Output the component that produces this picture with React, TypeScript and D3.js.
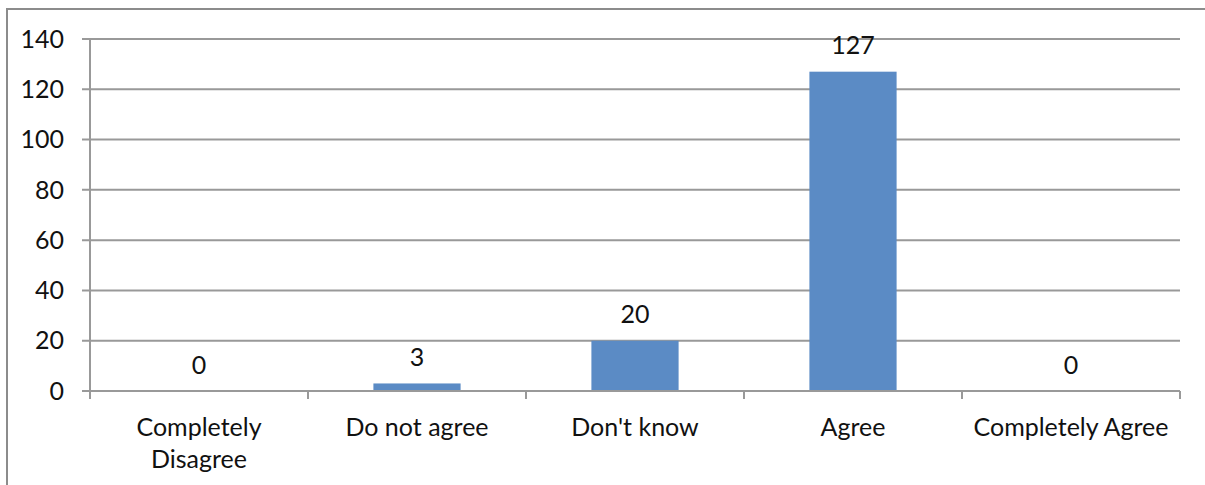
import React, { useEffect, useRef } from "react";
import * as d3 from "d3";

const categories = ["Completely Disagree", "Do not agree", "Don't know", "Agree", "Completely Agree"];
const counts = [0, 3, 20, 127, 0];
const yTicks = [0, 20, 40, 60, 80, 100, 120, 140];

function App() {
    const ref = useRef<SVGSVGElement>(null);

    useEffect(() => {
        const w = 1205;
        const h = 485;
        const m = { left: 90, right: 25, top: 39, bottom: 94 };
        const font = "Lato, 'Open Sans', sans-serif";
        const fs = 25;
        const grid = "#999999";

        const svg = d3.select(ref.current).attr("width", w).attr("height", h);
        svg.selectAll("*").remove();

        svg.append("rect")
            .attr("x", 0).attr("y", 0).attr("width", w).attr("height", h).attr("fill", "#fff");
        // outer chart border (right/bottom run off the page)
        svg.append("rect")
            .attr("x", 7).attr("y", 9).attr("width", w + 10).attr("height", h + 10)
            .attr("fill", "none").attr("stroke", "#8c8c8c").attr("stroke-width", 2);

        const x = d3.scaleBand().domain(categories).range([m.left, w - m.right]).paddingInner(0.6).paddingOuter(0.3);
        const y = d3.scaleLinear().domain([0, 140]).range([h - m.bottom, m.top]);

        const g = svg.append("g");

        // gridlines + y ticks
        g.selectAll(".grid").data(yTicks).join("line")
            .attr("x1", m.left - 8).attr("x2", w - m.right)
            .attr("y1", d => y(d)).attr("y2", d => y(d))
            .attr("stroke", grid).attr("stroke-width", 2);

        g.selectAll(".ylab").data(yTicks).join("text")
            .attr("x", 64).attr("y", d => y(d)).attr("dy", "0.35em")
            .attr("text-anchor", "end").attr("font-family", font).attr("font-size", fs).attr("fill", "#111")
            .text(d => d);

        // y axis line
        g.append("line")
            .attr("x1", m.left).attr("x2", m.left).attr("y1", m.top).attr("y2", y(0) + 8)
            .attr("stroke", grid).attr("stroke-width", 2);

        // category ticks
        const step = (w - m.right - m.left) / categories.length;
        g.selectAll(".xtick").data(d3.range(categories.length + 1)).join("line")
            .attr("x1", i => m.left + i * step).attr("x2", i => m.left + i * step)
            .attr("y1", y(0)).attr("y2", y(0) + 8)
            .attr("stroke", grid).attr("stroke-width", 2);

        // bars
        g.selectAll(".bar").data(counts).join("rect")
            .attr("x", (d, i) => x(categories[i]))
            .attr("width", x.bandwidth())
            .attr("y", d => y(d))
            .attr("height", d => y(0) - y(d))
            .attr("fill", "#5B8BC5");

        // x axis line over bars
        g.append("line")
            .attr("x1", m.left).attr("x2", w - m.right).attr("y1", y(0)).attr("y2", y(0))
            .attr("stroke", grid).attr("stroke-width", 2);

        // value labels
        g.selectAll(".val").data(counts).join("text")
            .attr("x", (d, i) => x(categories[i]) + x.bandwidth() / 2)
            .attr("y", d => y(d) - 26).attr("dy", "0.35em")
            .attr("text-anchor", "middle").attr("font-family", font).attr("font-size", fs).attr("fill", "#111")
            .text(d => d);

        // category labels, wrapped when wider than the band step
        categories.forEach((c, i) => {
            const cx = x(c) + x.bandwidth() / 2;
            const t = g.append("text")
                .attr("x", cx).attr("y", 427).attr("dy", "0.35em")
                .attr("text-anchor", "middle").attr("font-family", font).attr("font-size", fs).attr("fill", "#111")
                .text(c);
            const node = t.node() as SVGTextElement;
            if (node.getComputedTextLength() > step - 4) {
                const words = c.split(" ");
                t.text(null);
                words.forEach((wd, k) => {
                    t.append("tspan").attr("x", cx).attr("y", 427 + k * 32).attr("dy", "0.35em").text(wd);
                });
            }
        });
    }, []);

    return <svg ref={ref} style={{ position: "absolute", left: 0, top: 0 }} />;
}

export default App;
